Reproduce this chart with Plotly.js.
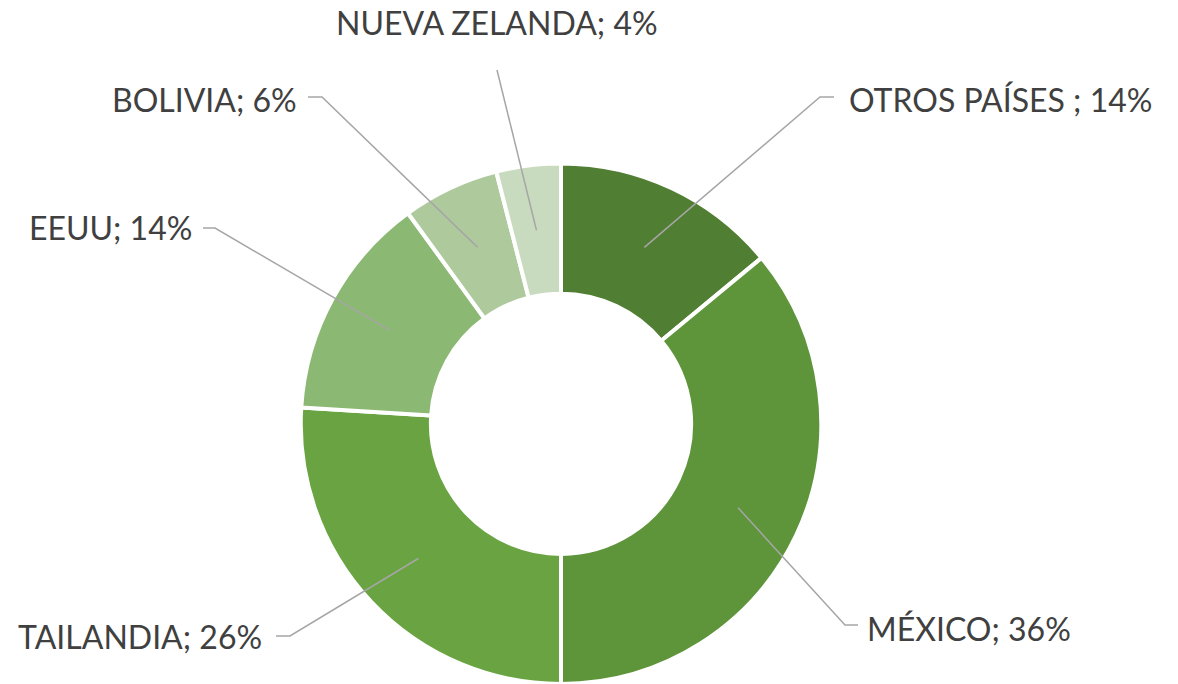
<!DOCTYPE html>
<html><head><meta charset="utf-8">
<script src="https://cdn.plot.ly/plotly-3.0.1.min.js"></script>
<style>html,body{margin:0;padding:0;background:#fff}</style>
</head><body><div id="chart" style="width:1178px;height:684px"></div>
<script>
const categories = ["OTROS PAÍSES ", "MÉXICO", "TAILANDIA", "EEUU", "BOLIVIA", "NUEVA ZELANDA"];
const values = [14, 36, 26, 14, 6, 4];
const colors = ["#507E32", "#5E953A", "#6AA442", "#8BB872", "#AECA9D", "#C9DBBF"];

const W = 1178, H = 684;
const cx = 561, cy = 424.5, R = 261, hole = 0.5;
// label anchor (pixel) positions, bend points for leader lines
const labelPos = [
  {bx: 820, by: 97, ex: 834, tx: 847, ty: 100, anchor: "left"},
  {bx: 845, by: 625, ex: 858, tx: 865, ty: 628, anchor: "left"},
  {bx: 290, by: 636, ex: 276, tx: 264, ty: 636, anchor: "right"},
  {bx: 215, by: 228, ex: 203, tx: 194, ty: 228, anchor: "right"},
  {bx: 322, by: 97, ex: 308, tx: 299, ty: 100, anchor: "right"},
  {bx: 497, by: 70, ex: 497, tx: 497, ty: 22, anchor: "center"}
];

const total = values.reduce((a, b) => a + b, 0);
const px = x => x / W, py = y => 1 - y / H;
const shapes = [], annotations = [];
let cum = 0;
values.forEach((v, i) => {
  const mid = (cum + v / 2) / total * 2 * Math.PI;
  cum += v;
  const rm = R * (1 + hole) / 2;
  const sx = cx + rm * Math.sin(mid), sy = cy - rm * Math.cos(mid);
  const L = labelPos[i];
  let path = `M${px(sx)},${py(sy)} L${px(L.bx)},${py(L.by)}`;
  if (L.ex !== L.bx) path += ` L${px(L.ex)},${py(L.by)}`;
  shapes.push({type: "path", xref: "paper", yref: "paper", path: path,
    line: {color: "#A6A6A6", width: 1.5}});
  const pct = Math.round(v / total * 100);
  annotations.push({xref: "paper", yref: "paper", x: px(L.tx), y: py(L.ty),
    xanchor: L.anchor, yanchor: "middle", showarrow: false,
    text: categories[i] + "; " + pct + "%",
    font: {family: "Lato, 'Open Sans', sans-serif", size: 32, color: "#404040"}});
});

const data = [{
  type: "pie", labels: categories, values: values, sort: false, direction: "clockwise",
  rotation: 0, hole: hole, textinfo: "none", hoverinfo: "none",
  marker: {colors: colors, line: {color: "#FFFFFF", width: 4}},
  domain: {x: [(cx - R) / W, (cx + R) / W], y: [(H - cy - R) / H, (H - cy + R) / H]}
}];
const layout = {
  width: W, height: H, margin: {l: 0, r: 0, t: 0, b: 0},
  showlegend: false, paper_bgcolor: "#FFFFFF",
  shapes: shapes, annotations: annotations
};
Plotly.newPlot("chart", data, layout, {displayModeBar: false, staticPlot: true});
</script></body></html>
